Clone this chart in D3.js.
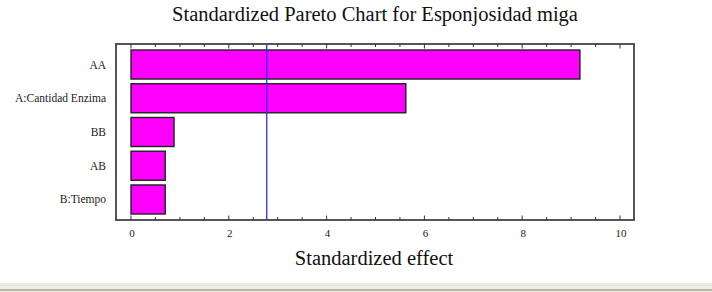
<!DOCTYPE html>
<html>
<head>
<meta charset="utf-8">
<script src="https://cdn.jsdelivr.net/npm/d3@7"></script>
<style>
  html, body { margin: 0; padding: 0; background: #fff; }
  svg { display: block; font-family: "Liberation Serif", "Times New Roman", serif; }
</style>
</head>
<body>
<svg id="chart" width="712" height="292"></svg>
<script>
// efectos estandarizados
var factors = ['AA', 'A:Cantidad Enzima', 'BB', 'AB', 'B:Tiempo'];
var effects = [9.18, 5.62, 0.88, 0.70, 0.70];
var xTicks = [0, 2, 4, 6, 8, 10];
var critical = 2.776;

var svg = d3.select('#chart');
var W = 712, H = 292;
var frame = { left: 116, right: 634, top: 44, bottom: 220 };

var x = d3.scaleLinear().domain([0, 10]).range([131, 620]);
var y = d3.scaleBand().domain(factors).range([frame.top, frame.bottom]).paddingInner(0.14).paddingOuter(0.178);

// titulo
svg.append('text').attr('x', 375).attr('y', 21).attr('text-anchor', 'middle')
  .attr('font-size', 20.5).attr('fill', '#111').text('Standardized Pareto Chart for Esponjosidad miga');

// barras
svg.append('g').selectAll('rect').data(factors).enter().append('rect')
  .attr('x', x(0)).attr('y', function (d) { return y(d); })
  .attr('width', function (d, i) { return x(effects[i]) - x(0); })
  .attr('height', y.bandwidth())
  .attr('fill', '#ff00ff').attr('stroke', '#222').attr('stroke-width', 1.4);

// linea critica
svg.append('line').attr('x1', x(critical)).attr('x2', x(critical))
  .attr('y1', frame.top).attr('y2', frame.bottom)
  .attr('stroke', '#2a2aff').attr('stroke-width', 1.3);

// marco
svg.append('rect').attr('x', frame.left).attr('y', frame.top)
  .attr('width', frame.right - frame.left).attr('height', frame.bottom - frame.top)
  .attr('fill', 'none').attr('stroke', '#444').attr('stroke-width', 1.8);

// ticks menores y mayores, hacia adentro (abajo y arriba)
var minor = d3.range(0, 10.01, 0.5);
var gt = svg.append('g').attr('stroke', '#333');
minor.forEach(function (v) {
  var len = (v % 2 === 0) ? 4.5 : 3;
  gt.append('line').attr('x1', x(v)).attr('x2', x(v)).attr('y1', frame.bottom).attr('y2', frame.bottom - len);
  gt.append('line').attr('x1', x(v)).attr('x2', x(v)).attr('y1', frame.top).attr('y2', frame.top + len);
});

// etiquetas del eje x
svg.append('g').selectAll('text').data(xTicks).enter().append('text')
  .attr('x', function (d) { return x(d) + 1; }).attr('y', 237)
  .attr('text-anchor', 'middle').attr('font-size', 11).attr('fill', '#222')
  .text(function (d) { return d; });

// etiquetas de factores
svg.append('g').selectAll('text').data(factors).enter().append('text')
  .attr('x', 106).attr('y', function (d) { return y(d) + y.bandwidth() / 2 + 4; })
  .attr('text-anchor', 'end').attr('font-size', 11.5).attr('fill', '#222')
  .text(function (d) { return d; });

// titulo eje x
svg.append('text').attr('x', 374).attr('y', 265).attr('text-anchor', 'middle')
  .attr('font-size', 20.5).attr('fill', '#111').text('Standardized effect');

// franja inferior de ventana
svg.append('rect').attr('x', 0).attr('y', 283).attr('width', W).attr('height', 9).attr('fill', '#f0eee2');
svg.append('line').attr('x1', 0).attr('x2', W).attr('y1', 285.5).attr('y2', 285.5).attr('stroke', '#e4e1d2');
svg.append('line').attr('x1', 0).attr('x2', W).attr('y1', 290).attr('y2', 290).attr('stroke', '#b8b5a8').attr('stroke-width', 2);
</script>
</body>
</html>
